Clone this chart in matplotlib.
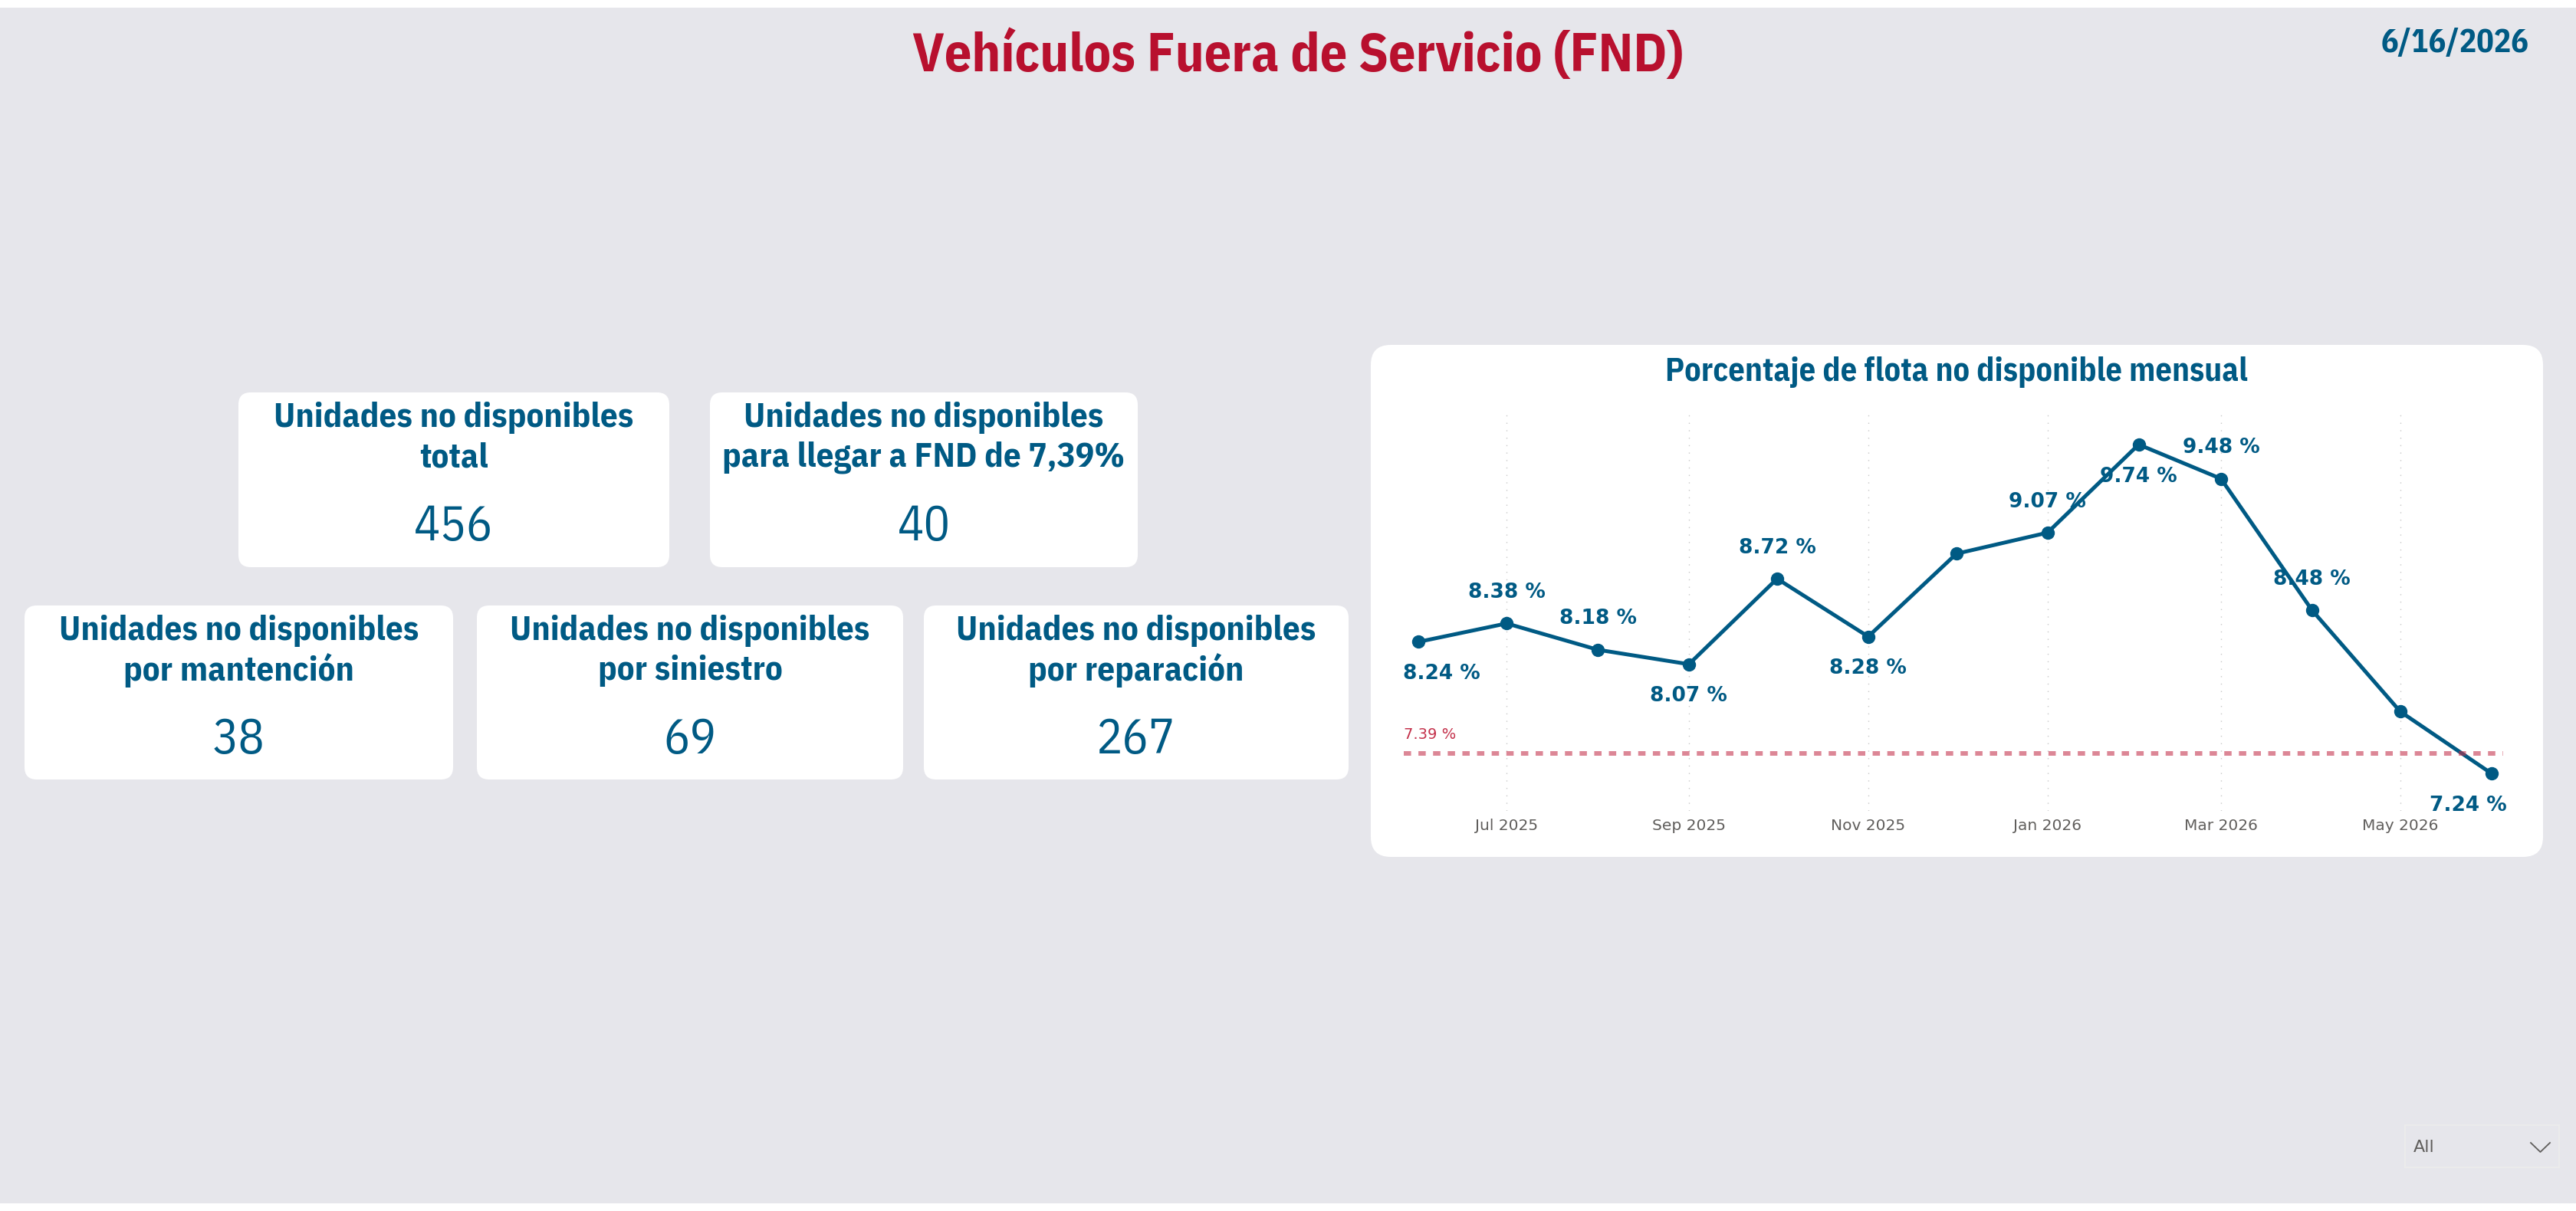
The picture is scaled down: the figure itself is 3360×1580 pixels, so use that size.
import matplotlib
matplotlib.use('Agg')
import matplotlib.pyplot as plt
import matplotlib.dates as mdates
from matplotlib.patches import FancyBboxPatch, Rectangle
from matplotlib.lines import Line2D
from matplotlib import font_manager
from datetime import date, timedelta

# --- Data ---
months = [date(2025, 6, 1), date(2025, 7, 1), date(2025, 8, 1), date(2025, 9, 1),
          date(2025, 10, 1), date(2025, 11, 1), date(2025, 12, 1), date(2026, 1, 1),
          date(2026, 2, 1), date(2026, 3, 1), date(2026, 4, 1), date(2026, 5, 1),
          date(2026, 6, 1)]
fnd_pct = [8.24, 8.38, 8.18, 8.07, 8.72, 8.28, 8.91, 9.07, 9.74, 9.48, 8.48, 7.71, 7.24]
hidden_labels = [date(2025, 12, 1), date(2026, 5, 1)]
fnd_target = 7.39

kpi_titles = ["Unidades no disponibles\ntotal",
              "Unidades no disponibles\npara llegar a FND de 7,39%",
              "Unidades no disponibles\npor mantención",
              "Unidades no disponibles\npor siniestro",
              "Unidades no disponibles\npor reparación"]
kpi_values = [456, 40, 38, 69, 267]

title = "Vehículos Fuera de Servicio (FND)"
chart_title = "Porcentaje de flota no disponible mensual"
report_date = "6/16/2026"

# --- Style ---
BG = '#E6E6EB'
BLUE = '#005A84'
RED = '#B8102E'
GRAY = '#605E5C'

# condensed font for headings (DIN-like look), DejaVu fallback with smaller sizes
try:
    font_manager.findfont(font_manager.FontProperties(family='IBM Plex Sans Condensed'),
                          fallback_to_default=False)
    COND, k = 'IBM Plex Sans Condensed', 1.0
except ValueError:
    COND, k = 'DejaVu Sans', 0.78

W, H = 3360, 1580
fig = plt.figure(figsize=(W / 100, H / 100), dpi=100, facecolor=BG)

# background layer in pixel coordinates
bg = fig.add_axes([0, 0, 1, 1], zorder=0)
bg.set_xlim(0, W)
bg.set_ylim(H, 0)
bg.set_axis_off()
bg.add_patch(Rectangle((0, 0), W, 10, facecolor='white', edgecolor='none'))
bg.add_patch(Rectangle((0, H - 10), W, 10, facecolor='white', edgecolor='none'))

bg.text(1693, 73, title, ha='center', va='center', color=RED,
        fontsize=50.5 * k, fontweight='bold', family=COND)
bg.text(3298, 57, report_date, ha='right', va='center', color=BLUE,
        fontsize=30 * k, fontweight='bold', family=COND)

# KPI cards: (x0, y0, x1, y1) in pixels
card_boxes = [(311, 512, 873, 740), (926, 512, 1484, 740),
              (32, 790, 591, 1017), (622, 790, 1178, 1017), (1205, 790, 1759, 1017)]
for (x0, y0, x1, y1), ttl, val in zip(card_boxes, kpi_titles, kpi_values):
    bg.add_patch(FancyBboxPatch((x0, y0), x1 - x0, y1 - y0,
                                boxstyle="round,pad=0,rounding_size=16",
                                facecolor='white', edgecolor='none'))
    cx = (x0 + x1) / 2
    for i, line in enumerate(ttl.split('\n')):
        bg.text(cx, y0 + 33 + i * 52, line, ha='center', va='center', color=BLUE,
                fontsize=32.5 * k, fontweight='bold', family=COND)
    bg.text(cx, y0 + 175, str(val), ha='center', va='center', color=BLUE,
            fontsize=46 * k, family=COND)

# chart card
bg.add_patch(FancyBboxPatch((1788, 450), 3317 - 1788, 1118 - 450,
                            boxstyle="round,pad=0,rounding_size=26",
                            facecolor='white', edgecolor='none'))
bg.text(2552, 486, chart_title, ha='center', va='center', color=BLUE,
        fontsize=30.5 * k, fontweight='bold', family=COND)

# slicer dropdown
bg.add_patch(Rectangle((3137, 1468), 3338 - 3137, 1523 - 1468,
                       facecolor='none', edgecolor='#EBEBEB', lw=1.5))
bg.text(3148, 1497, "All", ha='left', va='center', color=GRAY, fontsize=16)
bg.add_line(Line2D([3301, 3313.5, 3326], [1491, 1503, 1491], color=GRAY, lw=1.3))

# --- Line chart ---
ax = fig.add_axes([1831 / W, 1 - 1058 / H, (3265 - 1831) / W, (1058 - 541) / H], zorder=1)
ax.patch.set_alpha(0)
for s in ax.spines.values():
    s.set_visible(False)

ax.plot(months, fnd_pct, color=BLUE, lw=3.6, marker='o', markersize=11.5, zorder=3)
ax.axhline(fnd_target, color='#C4314B', alpha=0.58, lw=4.3,
           linestyle=(0, (1.6, 1.6)), zorder=4)
ax.text(0.0, fnd_target + 0.145, f"{fnd_target:.2f} %", transform=ax.get_yaxis_transform(),
        ha='left', va='center', color='#C4314B', fontsize=14)

ax.set_xlim(months[0] - timedelta(days=5.3), months[-1] + timedelta(days=4.4))
ax.set_ylim(6.955, 9.967)

# label placement: below for these months, above otherwise
below = [date(2025, 6, 1), date(2025, 9, 1), date(2025, 11, 1), date(2026, 2, 1), date(2026, 6, 1)]
for m, v in zip(months, fnd_pct):
    if m in hidden_labels:
        continue
    dy = -30 if m in below else 29
    dx = 0
    if m == months[0]:
        dx = 22
    elif m == months[-1]:
        dx = -22
    ax.annotate(f"{v:.2f} %", (m, v), xytext=(dx, dy), textcoords='offset points',
                ha='center', va='center', color=BLUE, fontsize=19, fontweight='bold', zorder=5)

ax.xaxis.set_major_locator(mdates.MonthLocator(bymonth=[1, 3, 5, 7, 9, 11]))
ax.xaxis.set_major_formatter(mdates.DateFormatter('%b %Y'))
ax.tick_params(axis='x', length=0, pad=7, labelsize=14.5, labelcolor=GRAY)
ax.set_yticks([])
ax.grid(axis='x', color='#C8C8C8', lw=1, linestyle=(0, (1, 6)))

fig.savefig('out.png', dpi=100, facecolor=BG)
